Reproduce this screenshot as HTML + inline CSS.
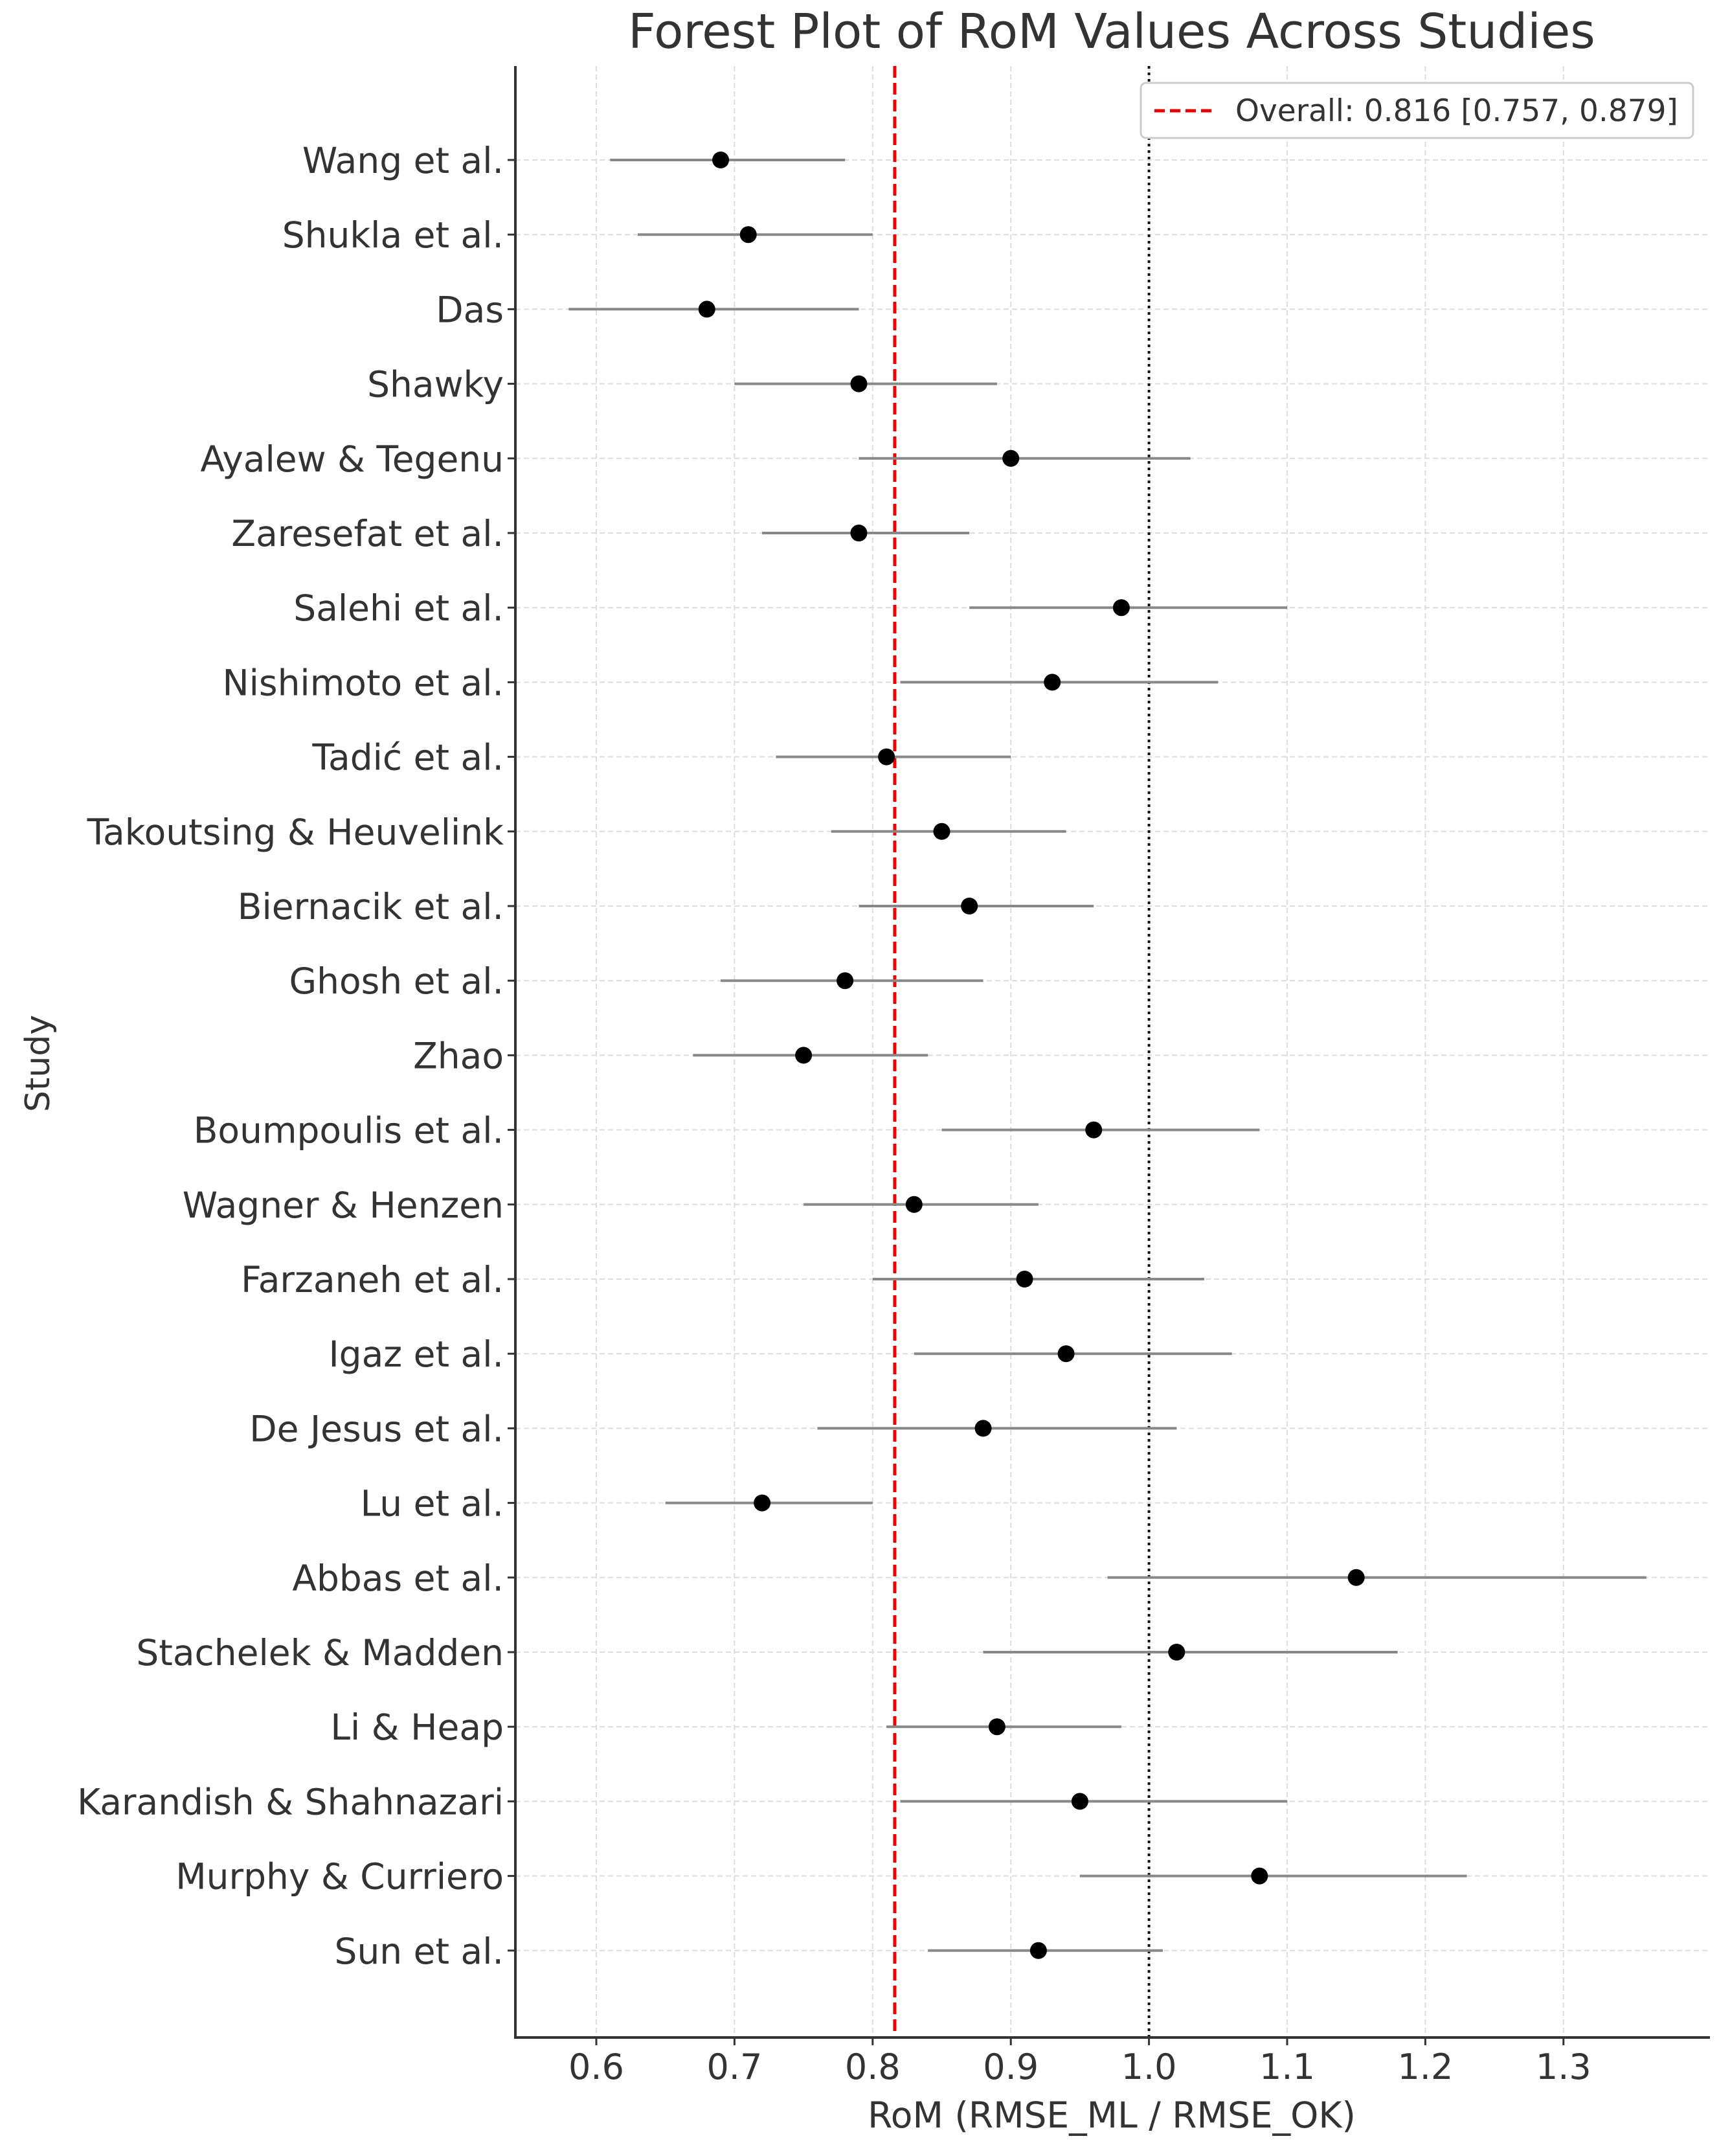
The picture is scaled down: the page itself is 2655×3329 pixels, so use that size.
<!DOCTYPE html>
<html><head><meta charset="utf-8"><style>
html,body{margin:0;padding:0;background:#fff;}
svg{display:block;font-family:"DejaVu Sans","Liberation Sans",sans-serif;}
</style></head><body>
<svg id="chart" width="2655" height="3329" viewBox="0 0 2655 3329" xmlns="http://www.w3.org/2000/svg">
<rect width="2655" height="3329" fill="#fff"/>
<text x="1717" y="74" font-size="74" fill="#333" text-anchor="middle">Forest Plot of RoM Values Across Studies</text>
<g id="grid"></g><g id="marks"></g><g id="axes"></g>
<text x="0" y="0" font-size="52" fill="#333" text-anchor="middle" transform="translate(76,1642) rotate(-90)">Study</text>
<text x="1717" y="3285" font-size="55" fill="#333" text-anchor="middle">RoM (RMSE_ML / RMSE_OK)</text>
<g>
<rect x="1762" y="128" width="853" height="85" rx="8" fill="#fff" stroke="#ccc" stroke-width="3"/>
<line x1="1783" y1="171" x2="1877" y2="171" stroke="#e00" stroke-width="5" stroke-dasharray="16,8"/>
<text x="1908" y="187" font-size="47" fill="#333">Overall: 0.816 [0.757, 0.879]</text>
</g>
</svg>
<script>
const studies=["Wang et al.","Shukla et al.","Das","Shawky","Ayalew & Tegenu","Zaresefat et al.","Salehi et al.","Nishimoto et al.","Tadić et al.","Takoutsing & Heuvelink","Biernacik et al.","Ghosh et al.","Zhao","Boumpoulis et al.","Wagner & Henzen","Farzaneh et al.","Igaz et al.","De Jesus et al.","Lu et al.","Abbas et al.","Stachelek & Madden","Li & Heap","Karandish & Shahnazari","Murphy & Curriero","Sun et al."];
const rom=[0.69,0.71,0.68,0.79,0.90,0.79,0.98,0.93,0.81,0.85,0.87,0.78,0.75,0.96,0.83,0.91,0.94,0.88,0.72,1.15,1.02,0.89,0.95,1.08,0.92];
const lower=[0.61,0.63,0.58,0.70,0.79,0.72,0.87,0.82,0.73,0.77,0.79,0.69,0.67,0.85,0.75,0.80,0.83,0.76,0.65,0.97,0.88,0.81,0.82,0.95,0.84];
const upper=[0.78,0.80,0.79,0.89,1.03,0.87,1.10,1.05,0.90,0.94,0.96,0.88,0.84,1.08,0.92,1.04,1.06,1.02,0.80,1.36,1.18,0.98,1.10,1.23,1.01];
const xTicks=[0.6,0.7,0.8,0.9,1.0,1.1,1.2,1.3];
const xTickLabels=["0.6","0.7","0.8","0.9","1.0","1.1","1.2","1.3"];
const overall=0.816;
const ref=1.0;

const L=796,R=2641,T=102,B=3146;
const x=v=>921+(v-0.6)*2134;
const y=i=>247+i*115.2;
const NS="http://www.w3.org/2000/svg";
function mk(tag,attrs,parent){const e=document.createElementNS(NS,tag);for(const k in attrs)e.setAttribute(k,attrs[k]);parent.appendChild(e);return e;}
const grid=document.getElementById('grid'),marks=document.getElementById('marks'),axes=document.getElementById('axes');
xTicks.forEach((t,i)=>{
  const g=mk('line',{x1:x(t),x2:x(t),y1:T,y2:B,stroke:'#ddd','stroke-width':2,'stroke-dasharray':'8,5'},grid);
  
  
  const tk=mk('line',{x1:x(t),x2:x(t),y1:B,y2:B+12,stroke:'#333','stroke-width':3},axes);
  
  
  const tl=mk('text',{x:x(t),y:B+64,'font-size':54,fill:'#333','text-anchor':'middle'},axes);
  tl.textContent=xTickLabels[i];
  
  
});
studies.forEach((s,i)=>{
  const g=mk('line',{x1:L,x2:R,y1:y(i),y2:y(i),stroke:'#ddd','stroke-width':2,'stroke-dasharray':'8,5'},grid);
  
  
  const tk=mk('line',{x1:L-12,x2:L,y1:y(i),y2:y(i),stroke:'#333','stroke-width':3},axes);
  
  
  const tl=mk('text',{x:L-18,y:y(i)+20,'font-size':55,fill:'#333','text-anchor':'end'},axes);
  tl.textContent=s;
  
  
});
const ov=mk('line',{x1:x(overall),x2:x(overall),y1:T,y2:B,stroke:'#e00','stroke-width':5,'stroke-dasharray':'18,8'},marks);


const rl=mk('line',{x1:x(ref),x2:x(ref),y1:T,y2:B,stroke:'#111','stroke-width':4,'stroke-dasharray':'4,6'},marks);


studies.forEach((s,i)=>{
  const ci=mk('line',{x1:x(lower[i]),x2:x(upper[i]),y1:y(i),y2:y(i),stroke:'#888','stroke-width':4},marks);
  
  
  const p=mk('circle',{cx:x(rom[i]),cy:y(i),r:13,fill:'#000'},marks);
  
  
});
const sp1=mk('line',{x1:L,x2:L,y1:T,y2:B+2,stroke:'#333','stroke-width':4},axes);


const sp2=mk('line',{x1:L-2,x2:R,y1:B,y2:B,stroke:'#333','stroke-width':4},axes);


</script>
</body></html>
